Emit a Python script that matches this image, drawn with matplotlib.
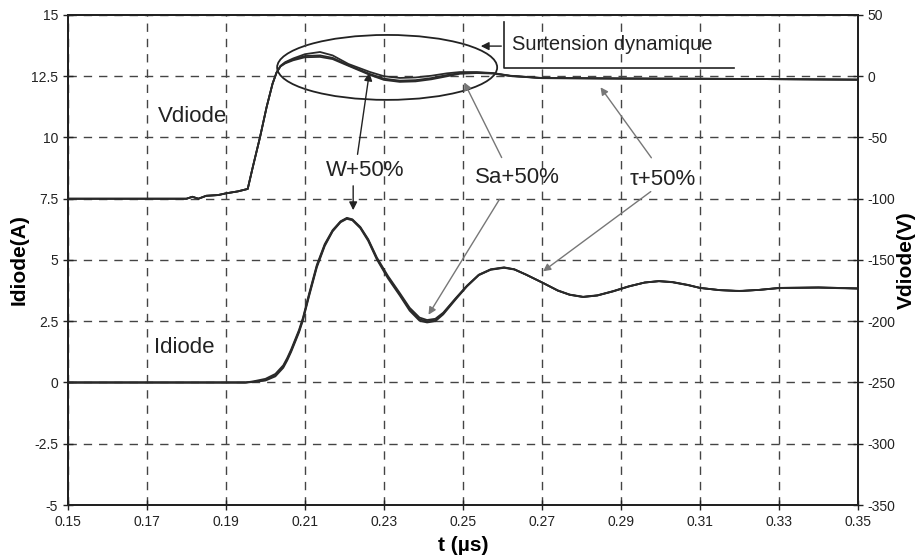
import matplotlib.pyplot as plt
from matplotlib.patches import Ellipse

plt.rcParams['font.family'] = ['Liberation Sans', 'DejaVu Sans']
plt.rcParams['axes.unicode_minus'] = False

# x axis
x_ticks = [0.15, 0.17, 0.19, 0.21, 0.23, 0.25, 0.27, 0.29, 0.31, 0.33, 0.35]
x_labels = ['0.15', '0.17', '0.19', '0.21', '0.23', '0.25', '0.27', '0.29', '0.31', '0.33', '0.35']
i_ticks = [-5, -2.5, 0, 2.5, 5, 7.5, 10, 12.5, 15]
i_labels = ['-5', '-2.5', '0', '2.5', '5', '7.5', '10', '12.5', '15']
v_ticks = [-350, -300, -250, -200, -150, -100, -50, 0, 50]
v_labels = ['-350', '-300', '-250', '-200', '-150', '-100', '-50', '0', '50']

# Idiode (A) - three runs nearly on top of each other
t_i = [0.150, 0.195, 0.197, 0.200, 0.2025, 0.2045, 0.2055, 0.2065, 0.2075, 0.2085,
       0.2095, 0.211, 0.213, 0.215, 0.217, 0.219, 0.2206, 0.222, 0.224, 0.226,
       0.2282, 0.231, 0.234, 0.2365, 0.239, 0.2409, 0.243, 0.245, 0.2482, 0.251,
       0.254, 0.257, 0.2604, 0.263, 0.266, 0.2703, 0.274, 0.277, 0.2804, 0.284,
       0.288, 0.292, 0.296, 0.2996, 0.303, 0.307, 0.310, 0.315, 0.320, 0.325,
       0.330, 0.340, 0.350]
i_w = [0, 0, 0.05, 0.15, 0.35, 0.70, 1.00, 1.35, 1.75, 2.15,
       2.65, 3.60, 4.80, 5.65, 6.22, 6.58, 6.72, 6.66, 6.35, 5.85,
       5.10, 4.35, 3.65, 3.05, 2.65, 2.55, 2.60, 2.85, 3.45, 3.95,
       4.40, 4.62, 4.70, 4.62, 4.40, 4.06, 3.75, 3.58, 3.49, 3.55,
       3.72, 3.92, 4.08, 4.14, 4.10, 3.98, 3.86, 3.77, 3.73, 3.78,
       3.86, 3.88, 3.84]
i_sa = [0, 0, 0.02, 0.08, 0.25, 0.60, 0.90, 1.25, 1.65, 2.05,
        2.55, 3.50, 4.70, 5.57, 6.17, 6.54, 6.68, 6.62, 6.30, 5.78,
        5.02, 4.25, 3.55, 2.93, 2.52, 2.45, 2.50, 2.78, 3.40, 3.92,
        4.38, 4.60, 4.68, 4.61, 4.40, 4.06, 3.76, 3.59, 3.50, 3.56,
        3.73, 3.93, 4.08, 4.13, 4.09, 3.97, 3.86, 3.77, 3.74, 3.78,
        3.85, 3.87, 3.83]
i_tau = [0, 0, 0.03, 0.10, 0.30, 0.65, 0.95, 1.30, 1.70, 2.10,
         2.60, 3.55, 4.75, 5.61, 6.19, 6.56, 6.70, 6.64, 6.33, 5.82,
         5.06, 4.30, 3.60, 2.99, 2.58, 2.50, 2.55, 2.82, 3.43, 3.94,
         4.39, 4.61, 4.69, 4.62, 4.40, 4.06, 3.75, 3.58, 3.49, 3.55,
         3.72, 3.92, 4.08, 4.14, 4.10, 3.98, 3.86, 3.77, 3.73, 3.78,
         3.86, 3.88, 3.84]

# Vdiode (V)
t_v = [0.150, 0.180, 0.1815, 0.183, 0.185, 0.188, 0.190, 0.193, 0.1955, 0.1968,
       0.1986, 0.2003, 0.2018, 0.2028, 0.2038, 0.205, 0.207, 0.210, 0.2138, 0.217,
       0.221, 0.2265, 0.230, 0.234, 0.238, 0.242, 0.246, 0.2492, 0.2535, 0.2576,
       0.262, 0.270, 0.280, 0.290, 0.300, 0.310, 0.320, 0.330, 0.340, 0.350]
v_w = [-100, -100, -98.4, -100, -97.6, -97, -95.6, -94, -92, -74,
       -50, -25, -6, 3, 8.5, 11.5, 14.5, 18, 19.8, 17,
       10, 3.4, 0, -1.4, -1, 0.4, 2.4, 3.4, 3.4, 2.6,
       0.4, -1.4, -1.6, -1.8, -2, -2, -2.2, -2.4, -2.6, -2.8]
v_sa = [-100, -100, -98.4, -100, -97.6, -97, -95.6, -94, -92, -74,
        -50, -25, -6, 3, 8, 10.5, 13, 15.5, 15.8, 14,
        8.5, 1.0, -3, -4.6, -4.2, -2.5, 0, 2.0, 2.6, 2.2,
        0.2, -1.6, -1.7, -1.9, -2, -2.1, -2.2, -2.4, -2.6, -2.8]
v_tau = [-100, -100, -98.4, -100, -97.6, -97, -95.6, -94, -92, -74,
         -50, -25, -6, 3, 8.2, 11, 13.8, 16.5, 17, 15,
         9, 1.8, -2, -3.6, -3.2, -1.5, 1.0, 2.6, 3.0, 2.4,
         0.3, -1.5, -1.7, -1.9, -2, -2.1, -2.2, -2.4, -2.6, -2.8]

fig = plt.figure(figsize=(9.16, 5.59), dpi=100)
ax = fig.add_axes([0.0742, 0.0966, 0.8625, 0.8766])
ax2 = ax.twinx()

line_col = '#2a2a2a'
for y in (i_w, i_sa, i_tau):
    ax.plot(t_i, y, color=line_col, lw=1.3)
for y in (v_w, v_sa, v_tau):
    ax2.plot(t_v, y, color=line_col, lw=1.3)

ax.set_xlim(0.15, 0.35)
ax.set_ylim(-5, 15)
ax2.set_ylim(-350, 50)
ax.set_xticks(x_ticks)
ax.set_xticklabels(x_labels)
ax.set_yticks(i_ticks)
ax.set_yticklabels(i_labels)
ax2.set_yticks(v_ticks)
ax2.set_yticklabels(v_labels)

ax.grid(True, color='#444444', linestyle=(0, (6, 5)), linewidth=1.0)
for a in (ax, ax2):
    for s in a.spines.values():
        s.set_linewidth(1.4)
        s.set_color('#222222')
    a.tick_params(direction='inout', length=7, width=1, labelsize=10, colors='#222222')

ax.set_xlabel('t (µs)', fontsize=15, fontweight='bold', labelpad=5)
ax.set_ylabel('Idiode(A)', fontsize=15, fontweight='bold', labelpad=2)
ax2.set_ylabel('Vdiode(V)', fontsize=15, fontweight='bold', labelpad=1)

# labels on curves
ax.text(0.1816, 10.84, 'Vdiode', fontsize=16, ha='center', va='center', color='#222222')
ax.text(0.1794, 1.41, 'Idiode', fontsize=16, ha='center', va='center', color='#222222')

# ellipse around the overshoot
ax.add_patch(Ellipse((0.2308, 12.86), 0.0557, 2.65, fill=False, edgecolor='#222222', lw=1.3))

# Surtension dynamique bracket
ax.plot([0.2604, 0.2604, 0.3186], [14.71, 12.84, 12.84], color='#222222', lw=1.2)
ax.annotate('', xy=(0.2538, 13.73), xytext=(0.2604, 13.73),
            arrowprops=dict(arrowstyle='-|>', color='#222222', lw=1.0, mutation_scale=12))
ax.text(0.2624, 13.78, 'Surtension dynamique', fontsize=14.5, ha='left', va='center', color='#222222')

# W+50%
ax.text(0.2252, 8.67, 'W+50%', fontsize=16, ha='center', va='center', color='#222222')
ax.annotate('', xy=(0.2264, 12.76), xytext=(0.2232, 9.20),
            arrowprops=dict(arrowstyle='-|>', color='#222222', lw=1.0, mutation_scale=12))
ax.annotate('', xy=(0.2222, 6.92), xytext=(0.2222, 8.14),
            arrowprops=dict(arrowstyle='-|>', color='#222222', lw=1.0, mutation_scale=12))

# Sa+50%
gray = '#777777'
ax.text(0.2639, 8.35, 'Sa+50%', fontsize=16, ha='center', va='center', color='#222222')
ax.annotate('', xy=(0.2500, 12.35), xytext=(0.2601, 9.08),
            arrowprops=dict(arrowstyle='-|>', color=gray, lw=1.0, mutation_scale=11))
ax.annotate('', xy=(0.2409, 2.67), xytext=(0.2596, 7.57),
            arrowprops=dict(arrowstyle='-|>', color=gray, lw=1.0, mutation_scale=11))

# tau+50%
ax.text(0.3006, 8.27, 'τ+50%', fontsize=16, ha='center', va='center', color='#222222')
ax.annotate('', xy=(0.2844, 12.14), xytext=(0.2981, 9.08),
            arrowprops=dict(arrowstyle='-|>', color=gray, lw=1.0, mutation_scale=11))
ax.annotate('', xy=(0.2697, 4.47), xytext=(0.2981, 7.86),
            arrowprops=dict(arrowstyle='-|>', color=gray, lw=1.0, mutation_scale=11))

fig.savefig('out.png', dpi=100)
